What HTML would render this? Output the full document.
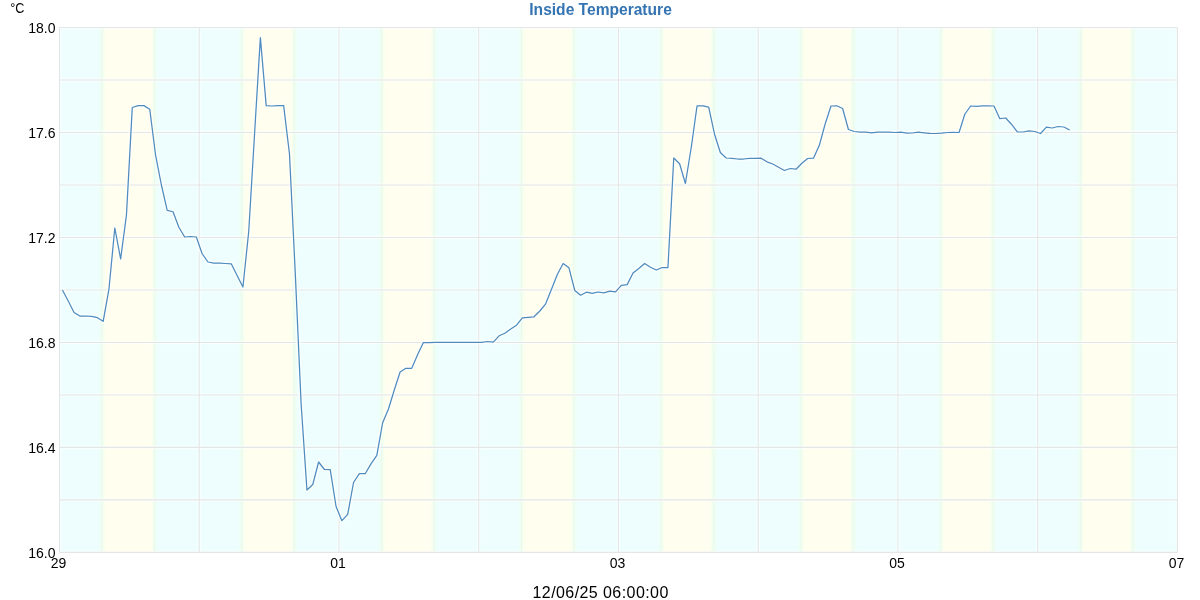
<!DOCTYPE html>
<html><head><meta charset="utf-8"><title>Inside Temperature</title>
<style>
html,body{margin:0;padding:0;background:#fff;}
body{width:1200px;height:600px;overflow:hidden;}
svg{display:block;}
.t{font-family:"Liberation Sans",Arial,sans-serif;}
</style></head><body>
<svg width="1200" height="600" viewBox="0 0 1200 600">
<defs>
<linearGradient id="dn" gradientUnits="userSpaceOnUse" x1="59.5" y1="0" x2="1177.4" y2="0">
<stop offset="0.00000" stop-color="#eefefe"/>
<stop offset="0.03453" stop-color="#eefefe"/>
<stop offset="0.03524" stop-color="#eefefb"/>
<stop offset="0.03596" stop-color="#eefef8"/>
<stop offset="0.03668" stop-color="#eefef4"/>
<stop offset="0.03739" stop-color="#eefef1"/>
<stop offset="0.03811" stop-color="#efffee"/>
<stop offset="0.03882" stop-color="#f2ffef"/>
<stop offset="0.03954" stop-color="#f6ffef"/>
<stop offset="0.04025" stop-color="#f9ffef"/>
<stop offset="0.04097" stop-color="#fdffef"/>
<stop offset="0.04169" stop-color="#fffeef"/>
<stop offset="0.08140" stop-color="#fffeef"/>
<stop offset="0.08212" stop-color="#fdffef"/>
<stop offset="0.08283" stop-color="#f9ffef"/>
<stop offset="0.08355" stop-color="#f6ffef"/>
<stop offset="0.08427" stop-color="#f2ffef"/>
<stop offset="0.08498" stop-color="#efffee"/>
<stop offset="0.08570" stop-color="#eefef1"/>
<stop offset="0.08641" stop-color="#eefef4"/>
<stop offset="0.08713" stop-color="#eefef8"/>
<stop offset="0.08784" stop-color="#eefefb"/>
<stop offset="0.08856" stop-color="#eefefe"/>
<stop offset="0.15959" stop-color="#eefefe"/>
<stop offset="0.16031" stop-color="#eefefb"/>
<stop offset="0.16102" stop-color="#eefef8"/>
<stop offset="0.16174" stop-color="#eefef4"/>
<stop offset="0.16245" stop-color="#eefef1"/>
<stop offset="0.16317" stop-color="#efffee"/>
<stop offset="0.16389" stop-color="#f2ffef"/>
<stop offset="0.16460" stop-color="#f6ffef"/>
<stop offset="0.16532" stop-color="#f9ffef"/>
<stop offset="0.16603" stop-color="#fdffef"/>
<stop offset="0.16675" stop-color="#fffeef"/>
<stop offset="0.20640" stop-color="#fffeef"/>
<stop offset="0.20712" stop-color="#fdffef"/>
<stop offset="0.20783" stop-color="#f9ffef"/>
<stop offset="0.20855" stop-color="#f6ffef"/>
<stop offset="0.20927" stop-color="#f2ffef"/>
<stop offset="0.20998" stop-color="#efffee"/>
<stop offset="0.21070" stop-color="#eefef1"/>
<stop offset="0.21141" stop-color="#eefef4"/>
<stop offset="0.21213" stop-color="#eefef8"/>
<stop offset="0.21284" stop-color="#eefefb"/>
<stop offset="0.21356" stop-color="#eefefe"/>
<stop offset="0.28465" stop-color="#eefefe"/>
<stop offset="0.28537" stop-color="#eefefb"/>
<stop offset="0.28609" stop-color="#eefef8"/>
<stop offset="0.28680" stop-color="#eefef4"/>
<stop offset="0.28752" stop-color="#eefef1"/>
<stop offset="0.28823" stop-color="#efffee"/>
<stop offset="0.28895" stop-color="#f2ffef"/>
<stop offset="0.28966" stop-color="#f6ffef"/>
<stop offset="0.29038" stop-color="#f9ffef"/>
<stop offset="0.29109" stop-color="#fdffef"/>
<stop offset="0.29181" stop-color="#fffeef"/>
<stop offset="0.33140" stop-color="#fffeef"/>
<stop offset="0.33212" stop-color="#fdffef"/>
<stop offset="0.33283" stop-color="#f9ffef"/>
<stop offset="0.33355" stop-color="#f6ffef"/>
<stop offset="0.33427" stop-color="#f2ffef"/>
<stop offset="0.33498" stop-color="#efffee"/>
<stop offset="0.33570" stop-color="#eefef1"/>
<stop offset="0.33641" stop-color="#eefef4"/>
<stop offset="0.33713" stop-color="#eefef8"/>
<stop offset="0.33784" stop-color="#eefefb"/>
<stop offset="0.33856" stop-color="#eefefe"/>
<stop offset="0.40972" stop-color="#eefefe"/>
<stop offset="0.41043" stop-color="#eefefb"/>
<stop offset="0.41115" stop-color="#eefef8"/>
<stop offset="0.41186" stop-color="#eefef4"/>
<stop offset="0.41258" stop-color="#eefef1"/>
<stop offset="0.41330" stop-color="#efffee"/>
<stop offset="0.41401" stop-color="#f2ffef"/>
<stop offset="0.41473" stop-color="#f6ffef"/>
<stop offset="0.41544" stop-color="#f9ffef"/>
<stop offset="0.41616" stop-color="#fdffef"/>
<stop offset="0.41687" stop-color="#fffeef"/>
<stop offset="0.45640" stop-color="#fffeef"/>
<stop offset="0.45712" stop-color="#fdffef"/>
<stop offset="0.45783" stop-color="#f9ffef"/>
<stop offset="0.45855" stop-color="#f6ffef"/>
<stop offset="0.45927" stop-color="#f2ffef"/>
<stop offset="0.45998" stop-color="#efffee"/>
<stop offset="0.46070" stop-color="#eefef1"/>
<stop offset="0.46141" stop-color="#eefef4"/>
<stop offset="0.46213" stop-color="#eefef8"/>
<stop offset="0.46284" stop-color="#eefefb"/>
<stop offset="0.46356" stop-color="#eefefe"/>
<stop offset="0.53478" stop-color="#eefefe"/>
<stop offset="0.53550" stop-color="#eefefb"/>
<stop offset="0.53621" stop-color="#eefef8"/>
<stop offset="0.53693" stop-color="#eefef4"/>
<stop offset="0.53764" stop-color="#eefef1"/>
<stop offset="0.53836" stop-color="#efffee"/>
<stop offset="0.53907" stop-color="#f2ffef"/>
<stop offset="0.53979" stop-color="#f6ffef"/>
<stop offset="0.54050" stop-color="#f9ffef"/>
<stop offset="0.54122" stop-color="#fdffef"/>
<stop offset="0.54194" stop-color="#fffeef"/>
<stop offset="0.58140" stop-color="#fffeef"/>
<stop offset="0.58212" stop-color="#fdffef"/>
<stop offset="0.58283" stop-color="#f9ffef"/>
<stop offset="0.58355" stop-color="#f6ffef"/>
<stop offset="0.58427" stop-color="#f2ffef"/>
<stop offset="0.58498" stop-color="#efffee"/>
<stop offset="0.58570" stop-color="#eefef1"/>
<stop offset="0.58641" stop-color="#eefef4"/>
<stop offset="0.58713" stop-color="#eefef8"/>
<stop offset="0.58784" stop-color="#eefefb"/>
<stop offset="0.58856" stop-color="#eefefe"/>
<stop offset="0.65984" stop-color="#eefefe"/>
<stop offset="0.66056" stop-color="#eefefb"/>
<stop offset="0.66127" stop-color="#eefef8"/>
<stop offset="0.66199" stop-color="#eefef4"/>
<stop offset="0.66270" stop-color="#eefef1"/>
<stop offset="0.66342" stop-color="#efffee"/>
<stop offset="0.66414" stop-color="#f2ffef"/>
<stop offset="0.66485" stop-color="#f6ffef"/>
<stop offset="0.66557" stop-color="#f9ffef"/>
<stop offset="0.66628" stop-color="#fdffef"/>
<stop offset="0.66700" stop-color="#fffeef"/>
<stop offset="0.70640" stop-color="#fffeef"/>
<stop offset="0.70712" stop-color="#fdffef"/>
<stop offset="0.70783" stop-color="#f9ffef"/>
<stop offset="0.70855" stop-color="#f6ffef"/>
<stop offset="0.70927" stop-color="#f2ffef"/>
<stop offset="0.70998" stop-color="#efffee"/>
<stop offset="0.71070" stop-color="#eefef1"/>
<stop offset="0.71141" stop-color="#eefef4"/>
<stop offset="0.71213" stop-color="#eefef8"/>
<stop offset="0.71284" stop-color="#eefefb"/>
<stop offset="0.71356" stop-color="#eefefe"/>
<stop offset="0.78490" stop-color="#eefefe"/>
<stop offset="0.78562" stop-color="#eefefb"/>
<stop offset="0.78634" stop-color="#eefef8"/>
<stop offset="0.78705" stop-color="#eefef4"/>
<stop offset="0.78777" stop-color="#eefef1"/>
<stop offset="0.78848" stop-color="#efffee"/>
<stop offset="0.78920" stop-color="#f2ffef"/>
<stop offset="0.78991" stop-color="#f6ffef"/>
<stop offset="0.79063" stop-color="#f9ffef"/>
<stop offset="0.79135" stop-color="#fdffef"/>
<stop offset="0.79206" stop-color="#fffeef"/>
<stop offset="0.83140" stop-color="#fffeef"/>
<stop offset="0.83212" stop-color="#fdffef"/>
<stop offset="0.83283" stop-color="#f9ffef"/>
<stop offset="0.83355" stop-color="#f6ffef"/>
<stop offset="0.83427" stop-color="#f2ffef"/>
<stop offset="0.83498" stop-color="#efffee"/>
<stop offset="0.83570" stop-color="#eefef1"/>
<stop offset="0.83641" stop-color="#eefef4"/>
<stop offset="0.83713" stop-color="#eefef8"/>
<stop offset="0.83784" stop-color="#eefefb"/>
<stop offset="0.83856" stop-color="#eefefe"/>
<stop offset="0.90997" stop-color="#eefefe"/>
<stop offset="0.91068" stop-color="#eefefb"/>
<stop offset="0.91140" stop-color="#eefef8"/>
<stop offset="0.91211" stop-color="#eefef4"/>
<stop offset="0.91283" stop-color="#eefef1"/>
<stop offset="0.91355" stop-color="#efffee"/>
<stop offset="0.91426" stop-color="#f2ffef"/>
<stop offset="0.91498" stop-color="#f6ffef"/>
<stop offset="0.91569" stop-color="#f9ffef"/>
<stop offset="0.91641" stop-color="#fdffef"/>
<stop offset="0.91712" stop-color="#fffeef"/>
<stop offset="0.95640" stop-color="#fffeef"/>
<stop offset="0.95712" stop-color="#fdffef"/>
<stop offset="0.95783" stop-color="#f9ffef"/>
<stop offset="0.95855" stop-color="#f6ffef"/>
<stop offset="0.95927" stop-color="#f2ffef"/>
<stop offset="0.95998" stop-color="#efffee"/>
<stop offset="0.96070" stop-color="#eefef1"/>
<stop offset="0.96141" stop-color="#eefef4"/>
<stop offset="0.96213" stop-color="#eefef8"/>
<stop offset="0.96284" stop-color="#eefefb"/>
<stop offset="0.96356" stop-color="#eefefe"/>
<stop offset="1.00000" stop-color="#eefefe"/>
</linearGradient>
</defs>
<rect x="59.5" y="27.5" width="1117.9" height="524.9" fill="url(#dn)"/>
<g stroke="#d8d8e0" stroke-width="1" stroke-opacity="0.14">
<line x1="102.10" y1="27.5" x2="102.10" y2="552.4"/>
<line x1="154.50" y1="27.5" x2="154.50" y2="552.4"/>
<line x1="241.91" y1="27.5" x2="241.91" y2="552.4"/>
<line x1="294.24" y1="27.5" x2="294.24" y2="552.4"/>
<line x1="381.72" y1="27.5" x2="381.72" y2="552.4"/>
<line x1="433.98" y1="27.5" x2="433.98" y2="552.4"/>
<line x1="521.52" y1="27.5" x2="521.52" y2="552.4"/>
<line x1="573.71" y1="27.5" x2="573.71" y2="552.4"/>
<line x1="661.33" y1="27.5" x2="661.33" y2="552.4"/>
<line x1="713.45" y1="27.5" x2="713.45" y2="552.4"/>
<line x1="801.14" y1="27.5" x2="801.14" y2="552.4"/>
<line x1="853.19" y1="27.5" x2="853.19" y2="552.4"/>
<line x1="940.95" y1="27.5" x2="940.95" y2="552.4"/>
<line x1="992.93" y1="27.5" x2="992.93" y2="552.4"/>
<line x1="1080.75" y1="27.5" x2="1080.75" y2="552.4"/>
<line x1="1132.66" y1="27.5" x2="1132.66" y2="552.4"/>
</g>
<g stroke="#fff" stroke-width="3.5" stroke-opacity="0.5" fill="none">
<line x1="59.5" y1="27.50" x2="1177.4" y2="27.50"/>
<line x1="59.5" y1="79.99" x2="1177.4" y2="79.99"/>
<line x1="59.5" y1="132.48" x2="1177.4" y2="132.48"/>
<line x1="59.5" y1="184.97" x2="1177.4" y2="184.97"/>
<line x1="59.5" y1="237.46" x2="1177.4" y2="237.46"/>
<line x1="59.5" y1="289.95" x2="1177.4" y2="289.95"/>
<line x1="59.5" y1="342.44" x2="1177.4" y2="342.44"/>
<line x1="59.5" y1="394.93" x2="1177.4" y2="394.93"/>
<line x1="59.5" y1="447.42" x2="1177.4" y2="447.42"/>
<line x1="59.5" y1="499.91" x2="1177.4" y2="499.91"/>
<line x1="59.5" y1="552.40" x2="1177.4" y2="552.40"/>
<line x1="59.50" y1="27.5" x2="59.50" y2="552.4"/>
<line x1="199.24" y1="27.5" x2="199.24" y2="552.4"/>
<line x1="338.98" y1="27.5" x2="338.98" y2="552.4"/>
<line x1="478.71" y1="27.5" x2="478.71" y2="552.4"/>
<line x1="618.45" y1="27.5" x2="618.45" y2="552.4"/>
<line x1="758.19" y1="27.5" x2="758.19" y2="552.4"/>
<line x1="897.93" y1="27.5" x2="897.93" y2="552.4"/>
<line x1="1037.66" y1="27.5" x2="1037.66" y2="552.4"/>
<line x1="1177.40" y1="27.5" x2="1177.40" y2="552.4"/>
</g>
<g stroke="#e3e6e6" stroke-width="1.1" fill="none">
<line x1="59.5" y1="27.50" x2="1177.4" y2="27.50"/>
<line x1="59.5" y1="79.99" x2="1177.4" y2="79.99"/>
<line x1="59.5" y1="132.48" x2="1177.4" y2="132.48"/>
<line x1="59.5" y1="184.97" x2="1177.4" y2="184.97"/>
<line x1="59.5" y1="237.46" x2="1177.4" y2="237.46"/>
<line x1="59.5" y1="289.95" x2="1177.4" y2="289.95"/>
<line x1="59.5" y1="342.44" x2="1177.4" y2="342.44"/>
<line x1="59.5" y1="394.93" x2="1177.4" y2="394.93"/>
<line x1="59.5" y1="447.42" x2="1177.4" y2="447.42"/>
<line x1="59.5" y1="499.91" x2="1177.4" y2="499.91"/>
<line x1="59.5" y1="552.40" x2="1177.4" y2="552.40"/>
<line x1="59.50" y1="27.5" x2="59.50" y2="552.4"/>
<line x1="199.24" y1="27.5" x2="199.24" y2="552.4"/>
<line x1="338.98" y1="27.5" x2="338.98" y2="552.4"/>
<line x1="478.71" y1="27.5" x2="478.71" y2="552.4"/>
<line x1="618.45" y1="27.5" x2="618.45" y2="552.4"/>
<line x1="758.19" y1="27.5" x2="758.19" y2="552.4"/>
<line x1="897.93" y1="27.5" x2="897.93" y2="552.4"/>
<line x1="1037.66" y1="27.5" x2="1037.66" y2="552.4"/>
<line x1="1177.40" y1="27.5" x2="1177.40" y2="552.4"/>
</g>
<polyline fill="none" stroke="#fff" stroke-opacity="0.55" stroke-width="4.5" stroke-linejoin="round" points="62.41,290.00 68.23,301.00 74.06,312.50 79.88,316.00 85.70,316.00 91.52,316.40 97.35,317.70 103.17,321.30 108.99,288.80 114.81,228.00 120.64,259.00 126.46,215.00 132.28,107.50 138.10,105.60 143.92,105.60 149.75,109.25 155.57,155.00 161.39,185.00 167.21,210.40 173.04,211.75 178.86,227.20 184.68,237.00 190.50,236.50 196.33,237.00 202.15,253.75 207.97,262.00 213.79,263.20 219.62,263.20 225.44,263.50 231.26,263.80 237.08,275.50 242.91,287.00 248.73,231.50 254.55,134.00 260.37,37.60 266.20,105.60 272.02,106.00 277.84,105.60 283.66,105.60 289.48,154.00 295.31,274.00 301.13,404.00 306.95,490.00 312.77,484.50 318.60,462.00 324.42,469.50 330.24,469.70 336.06,506.50 341.89,520.70 347.71,514.30 353.53,482.50 359.35,473.70 365.18,473.70 371.00,463.90 376.82,455.30 382.64,422.75 388.47,409.00 394.29,390.00 400.11,372.00 405.93,368.25 411.75,368.25 417.58,354.75 423.40,342.50 429.22,342.70 435.04,342.30 440.87,342.30 446.69,342.30 452.51,342.30 458.33,342.30 464.16,342.30 469.98,342.30 475.80,342.30 481.62,342.30 487.45,341.50 493.27,342.20 499.09,335.80 504.91,333.30 510.74,329.00 516.56,325.20 522.38,317.80 528.20,317.30 534.03,316.80 539.85,311.00 545.67,303.80 551.49,289.30 557.31,274.50 563.14,263.50 568.96,267.80 574.78,290.50 580.60,295.20 586.43,292.20 592.25,293.30 598.07,292.00 603.89,292.80 609.72,291.20 615.54,291.80 621.36,285.30 627.18,284.60 633.01,273.00 638.83,268.50 644.65,263.50 650.47,267.30 656.30,270.00 662.12,267.50 667.94,267.50 673.76,158.00 679.59,163.75 685.41,183.50 691.23,147.50 697.05,105.80 702.87,105.80 708.70,107.20 714.52,134.20 720.34,152.50 726.16,158.00 731.99,158.30 737.81,159.00 743.63,159.00 749.45,158.30 755.28,158.30 761.10,158.20 766.92,161.80 772.74,164.00 778.57,167.20 784.39,170.50 790.21,168.50 796.03,169.20 801.86,163.20 807.68,158.50 813.50,158.20 819.32,145.30 825.15,124.00 830.97,106.00 836.79,105.80 842.61,108.50 848.43,129.50 854.26,131.50 860.08,132.20 865.90,132.20 871.72,132.80 877.55,132.20 883.37,132.20 889.19,132.20 895.01,132.50 900.84,132.20 906.66,133.20 912.48,133.00 918.30,132.20 924.13,132.80 929.95,133.30 935.77,133.50 941.59,133.20 947.42,132.50 953.24,132.30 959.06,132.50 964.88,114.00 970.70,106.00 976.53,106.30 982.35,105.80 988.17,105.80 993.99,106.00 999.82,118.70 1005.64,118.00 1011.46,124.20 1017.28,131.80 1023.11,132.00 1028.93,130.80 1034.75,131.50 1040.57,133.50 1046.40,127.20 1052.22,128.00 1058.04,126.50 1063.86,127.00 1069.69,130.00"/>
<polyline fill="none" stroke="#4f8bbe" stroke-width="1.25" stroke-linejoin="round" points="62.41,290.00 68.23,301.00 74.06,312.50 79.88,316.00 85.70,316.00 91.52,316.40 97.35,317.70 103.17,321.30 108.99,288.80 114.81,228.00 120.64,259.00 126.46,215.00 132.28,107.50 138.10,105.60 143.92,105.60 149.75,109.25 155.57,155.00 161.39,185.00 167.21,210.40 173.04,211.75 178.86,227.20 184.68,237.00 190.50,236.50 196.33,237.00 202.15,253.75 207.97,262.00 213.79,263.20 219.62,263.20 225.44,263.50 231.26,263.80 237.08,275.50 242.91,287.00 248.73,231.50 254.55,134.00 260.37,37.60 266.20,105.60 272.02,106.00 277.84,105.60 283.66,105.60 289.48,154.00 295.31,274.00 301.13,404.00 306.95,490.00 312.77,484.50 318.60,462.00 324.42,469.50 330.24,469.70 336.06,506.50 341.89,520.70 347.71,514.30 353.53,482.50 359.35,473.70 365.18,473.70 371.00,463.90 376.82,455.30 382.64,422.75 388.47,409.00 394.29,390.00 400.11,372.00 405.93,368.25 411.75,368.25 417.58,354.75 423.40,342.50 429.22,342.70 435.04,342.30 440.87,342.30 446.69,342.30 452.51,342.30 458.33,342.30 464.16,342.30 469.98,342.30 475.80,342.30 481.62,342.30 487.45,341.50 493.27,342.20 499.09,335.80 504.91,333.30 510.74,329.00 516.56,325.20 522.38,317.80 528.20,317.30 534.03,316.80 539.85,311.00 545.67,303.80 551.49,289.30 557.31,274.50 563.14,263.50 568.96,267.80 574.78,290.50 580.60,295.20 586.43,292.20 592.25,293.30 598.07,292.00 603.89,292.80 609.72,291.20 615.54,291.80 621.36,285.30 627.18,284.60 633.01,273.00 638.83,268.50 644.65,263.50 650.47,267.30 656.30,270.00 662.12,267.50 667.94,267.50 673.76,158.00 679.59,163.75 685.41,183.50 691.23,147.50 697.05,105.80 702.87,105.80 708.70,107.20 714.52,134.20 720.34,152.50 726.16,158.00 731.99,158.30 737.81,159.00 743.63,159.00 749.45,158.30 755.28,158.30 761.10,158.20 766.92,161.80 772.74,164.00 778.57,167.20 784.39,170.50 790.21,168.50 796.03,169.20 801.86,163.20 807.68,158.50 813.50,158.20 819.32,145.30 825.15,124.00 830.97,106.00 836.79,105.80 842.61,108.50 848.43,129.50 854.26,131.50 860.08,132.20 865.90,132.20 871.72,132.80 877.55,132.20 883.37,132.20 889.19,132.20 895.01,132.50 900.84,132.20 906.66,133.20 912.48,133.00 918.30,132.20 924.13,132.80 929.95,133.30 935.77,133.50 941.59,133.20 947.42,132.50 953.24,132.30 959.06,132.50 964.88,114.00 970.70,106.00 976.53,106.30 982.35,105.80 988.17,105.80 993.99,106.00 999.82,118.70 1005.64,118.00 1011.46,124.20 1017.28,131.80 1023.11,132.00 1028.93,130.80 1034.75,131.50 1040.57,133.50 1046.40,127.20 1052.22,128.00 1058.04,126.50 1063.86,127.00 1069.69,130.00"/>
<g class="t" font-size="14" fill="#000">
<text x="55.5" y="558.20" text-anchor="end">16.0</text>
<text x="55.5" y="453.20" text-anchor="end">16.4</text>
<text x="55.5" y="348.20" text-anchor="end">16.8</text>
<text x="55.5" y="243.20" text-anchor="end">17.2</text>
<text x="55.5" y="138.20" text-anchor="end">17.6</text>
<text x="55.5" y="33.20" text-anchor="end">18.0</text>
<text x="58.60" y="568.4" text-anchor="middle">29</text>
<text x="338.10" y="568.4" text-anchor="middle">01</text>
<text x="617.60" y="568.4" text-anchor="middle">03</text>
<text x="897.10" y="568.4" text-anchor="middle">05</text>
<text x="1176.60" y="568.4" text-anchor="middle">07</text>
</g>
<text class="t" x="10.2" y="12.8" font-size="14" fill="#000" textLength="14.2" lengthAdjust="spacingAndGlyphs">°C</text>
<text class="t" x="529.3" y="14.8" font-size="16" font-weight="bold" fill="#3574b2" textLength="142.5" lengthAdjust="spacingAndGlyphs">Inside Temperature</text>
<text class="t" x="532.5" y="597.8" font-size="16" fill="#000" textLength="135.8" lengthAdjust="spacing">12/06/25 06:00:00</text>
</svg>
</body></html>
